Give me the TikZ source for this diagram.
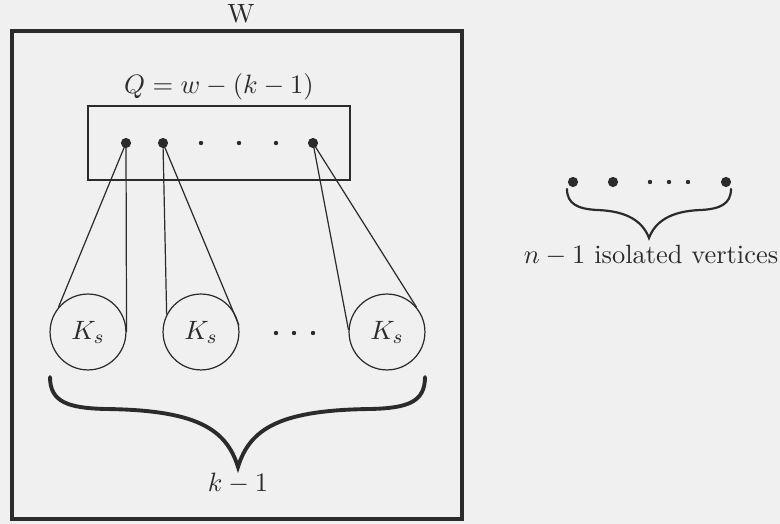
\documentclass[tikz,border=0pt]{standalone}
\usepackage{amsmath}
\usetikzlibrary{positioning, calc}
\definecolor{ink}{HTML}{2B2B2B}
\definecolor{paper}{HTML}{F0F0F0}

\begin{document}
\begin{tikzpicture}[x=0.0145cm, y=-0.0145cm, color=ink, text=ink,
    font=\fontsize{10.9}{13}\selectfont,
    box/.style={rectangle, draw=ink, inner sep=0pt},
    bigdot/.style={circle, fill=ink, inner sep=0pt, minimum size=4.2pt},
    smalldot/.style={circle, fill=ink, inner sep=0pt, minimum size=1.8pt},
    clique/.style={circle, draw=ink, line width=0.5pt, minimum size=1.1cm, inner sep=0pt},
    edge/.style={line width=0.5pt},
    bigbrace/.style={line width=1.6pt, line cap=round},
    smallbrace/.style={line width=0.9pt, line cap=round}]
  \useasboundingbox (0,0) rectangle (780,524);
  \fill[paper] (0,0) rectangle (780,524);

  % the set W
  \node[box, line width=1.6pt, minimum width=6.52cm, minimum height=7.07cm] (wbox) at (237,275) {};
  \node (wlabel) at (241,14) {W};
  \node[box, line width=0.6pt, minimum width=3.8cm, minimum height=1.07cm] (qbox) at (219,143) {};
  \node (qlabel) at (219,87) {$Q = w - (k-1)$};

  % vertices of Q
  \node[bigdot] (d1) at (126,143) {};
  \node[bigdot] (d2) at (163,143) {};
  \foreach \x/\n in {201/a, 239/b, 276/c}
    \node[smalldot] (q\n) at (\x,143) {};
  \node[bigdot] (d3) at (313,143) {};

  % cliques
  \node[clique] (k1) at (88,332) {$K_s$};
  \node[clique] (k2) at (201,332) {$K_s$};
  \node[clique] (k3) at (387,332) {$K_s$};
  \foreach \x/\n in {276/a, 294/b, 313/c}
    \node[smalldot] (m\n) at (\x,333) {};

  \draw[edge] (d1.center) -- (k1.140);
  \draw[edge] (d1.center) -- (k1.east);
  \draw[edge] (d2.center) -- (k2.153);
  \draw[edge] (d2.center) -- (k2.10);
  \draw[edge] (d3.center) -- (k3.177);
  \draw[edge] (d3.center) -- (k3.40);

  % brace under the cliques
  \draw[bigbrace] (50,377) .. controls (50,402) and (68,408) .. (105,409)
    .. controls (195,410) and (226,428) .. (238,467)
    .. controls (250,428) and (281,410) .. (371,409)
    .. controls (408,408) and (425,402) .. (425,377);
  \node (klabel) at (238,483) {$k-1$};

  % isolated vertices
  \node[bigdot] (v1) at (573,182) {};
  \node[bigdot] (v2) at (613,182) {};
  \foreach \x/\n in {650/a, 669/b, 688/c}
    \node[smalldot] (v\n) at (\x,182) {};
  \node[bigdot] (v3) at (726,182) {};
  \draw[smallbrace] (567,189) .. controls (567,204) and (578,209) .. (597,210)
    .. controls (628,211) and (643,222) .. (649,238)
    .. controls (655,222) and (670,211) .. (701,210)
    .. controls (720,209) and (731,204) .. (731,189);
  \node (nlabel) at (651,255) {$n-1$ isolated vertices};
\end{tikzpicture}
\end{document}
